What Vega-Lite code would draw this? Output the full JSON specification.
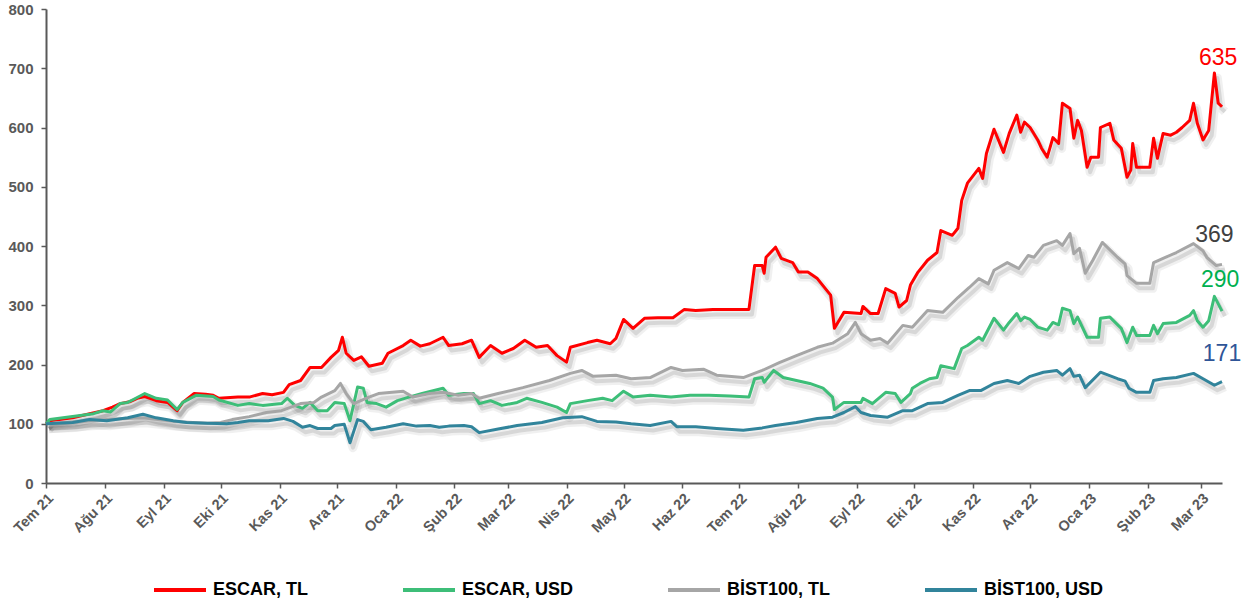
{
  "$schema": "https://vega.github.io/schema/vega-lite/v6.json",
  "width": 1176,
  "height": 474,
  "autosize": {"type": "none"},
  "padding": {"left": 46, "top": 9, "right": 20, "bottom": 121},
  "background": "white",
  "config": {"view": {"stroke": null}, "font": "Liberation Sans"},
  "datasets": {
    "series": [
      {"date":"2021-07-01","series":"ESCAR, TL","value":100},
      {"date":"2021-07-03","series":"ESCAR, TL","value":105},
      {"date":"2021-07-15","series":"ESCAR, TL","value":110},
      {"date":"2021-07-24","series":"ESCAR, TL","value":117},
      {"date":"2021-07-31","series":"ESCAR, TL","value":122},
      {"date":"2021-08-05","series":"ESCAR, TL","value":128},
      {"date":"2021-08-09","series":"ESCAR, TL","value":134},
      {"date":"2021-08-14","series":"ESCAR, TL","value":137},
      {"date":"2021-08-18","series":"ESCAR, TL","value":143},
      {"date":"2021-08-22","series":"ESCAR, TL","value":146},
      {"date":"2021-08-28","series":"ESCAR, TL","value":139},
      {"date":"2021-09-03","series":"ESCAR, TL","value":136},
      {"date":"2021-09-08","series":"ESCAR, TL","value":122},
      {"date":"2021-09-11","series":"ESCAR, TL","value":136},
      {"date":"2021-09-17","series":"ESCAR, TL","value":151},
      {"date":"2021-09-23","series":"ESCAR, TL","value":150},
      {"date":"2021-09-27","series":"ESCAR, TL","value":148},
      {"date":"2021-09-30","series":"ESCAR, TL","value":143},
      {"date":"2021-10-10","series":"ESCAR, TL","value":145},
      {"date":"2021-10-16","series":"ESCAR, TL","value":145},
      {"date":"2021-10-23","series":"ESCAR, TL","value":151},
      {"date":"2021-10-28","series":"ESCAR, TL","value":149},
      {"date":"2021-11-03","series":"ESCAR, TL","value":153},
      {"date":"2021-11-06","series":"ESCAR, TL","value":166},
      {"date":"2021-11-12","series":"ESCAR, TL","value":173},
      {"date":"2021-11-17","series":"ESCAR, TL","value":195},
      {"date":"2021-11-23","series":"ESCAR, TL","value":195},
      {"date":"2021-11-28","series":"ESCAR, TL","value":212},
      {"date":"2021-12-02","series":"ESCAR, TL","value":224},
      {"date":"2021-12-04","series":"ESCAR, TL","value":246},
      {"date":"2021-12-06","series":"ESCAR, TL","value":219},
      {"date":"2021-12-10","series":"ESCAR, TL","value":207},
      {"date":"2021-12-14","series":"ESCAR, TL","value":213},
      {"date":"2021-12-18","series":"ESCAR, TL","value":197},
      {"date":"2021-12-25","series":"ESCAR, TL","value":202},
      {"date":"2021-12-28","series":"ESCAR, TL","value":219},
      {"date":"2022-01-05","series":"ESCAR, TL","value":232},
      {"date":"2022-01-09","series":"ESCAR, TL","value":241},
      {"date":"2022-01-14","series":"ESCAR, TL","value":231},
      {"date":"2022-01-19","series":"ESCAR, TL","value":235},
      {"date":"2022-01-26","series":"ESCAR, TL","value":246},
      {"date":"2022-01-29","series":"ESCAR, TL","value":232},
      {"date":"2022-02-05","series":"ESCAR, TL","value":235},
      {"date":"2022-02-10","series":"ESCAR, TL","value":241},
      {"date":"2022-02-14","series":"ESCAR, TL","value":212},
      {"date":"2022-02-20","series":"ESCAR, TL","value":232},
      {"date":"2022-02-26","series":"ESCAR, TL","value":219},
      {"date":"2022-03-04","series":"ESCAR, TL","value":227},
      {"date":"2022-03-10","series":"ESCAR, TL","value":241},
      {"date":"2022-03-16","series":"ESCAR, TL","value":229},
      {"date":"2022-03-22","series":"ESCAR, TL","value":232},
      {"date":"2022-03-27","series":"ESCAR, TL","value":215},
      {"date":"2022-04-01","series":"ESCAR, TL","value":204},
      {"date":"2022-04-03","series":"ESCAR, TL","value":229},
      {"date":"2022-04-12","series":"ESCAR, TL","value":237},
      {"date":"2022-04-17","series":"ESCAR, TL","value":241},
      {"date":"2022-04-24","series":"ESCAR, TL","value":235},
      {"date":"2022-04-27","series":"ESCAR, TL","value":244},
      {"date":"2022-05-01","series":"ESCAR, TL","value":276},
      {"date":"2022-05-06","series":"ESCAR, TL","value":261},
      {"date":"2022-05-12","series":"ESCAR, TL","value":278},
      {"date":"2022-05-19","series":"ESCAR, TL","value":279},
      {"date":"2022-05-27","series":"ESCAR, TL","value":279},
      {"date":"2022-06-02","series":"ESCAR, TL","value":293},
      {"date":"2022-06-08","series":"ESCAR, TL","value":291},
      {"date":"2022-06-17","series":"ESCAR, TL","value":293},
      {"date":"2022-06-26","series":"ESCAR, TL","value":293},
      {"date":"2022-07-06","series":"ESCAR, TL","value":293},
      {"date":"2022-07-09","series":"ESCAR, TL","value":367},
      {"date":"2022-07-13","series":"ESCAR, TL","value":367},
      {"date":"2022-07-14","series":"ESCAR, TL","value":354},
      {"date":"2022-07-15","series":"ESCAR, TL","value":381},
      {"date":"2022-07-20","series":"ESCAR, TL","value":398},
      {"date":"2022-07-23","series":"ESCAR, TL","value":379},
      {"date":"2022-07-29","series":"ESCAR, TL","value":372},
      {"date":"2022-08-01","series":"ESCAR, TL","value":356},
      {"date":"2022-08-06","series":"ESCAR, TL","value":356},
      {"date":"2022-08-11","series":"ESCAR, TL","value":345},
      {"date":"2022-08-18","series":"ESCAR, TL","value":317},
      {"date":"2022-08-20","series":"ESCAR, TL","value":261},
      {"date":"2022-08-25","series":"ESCAR, TL","value":288},
      {"date":"2022-09-03","series":"ESCAR, TL","value":286},
      {"date":"2022-09-04","series":"ESCAR, TL","value":298},
      {"date":"2022-09-08","series":"ESCAR, TL","value":286},
      {"date":"2022-09-12","series":"ESCAR, TL","value":286},
      {"date":"2022-09-16","series":"ESCAR, TL","value":328},
      {"date":"2022-09-21","series":"ESCAR, TL","value":320},
      {"date":"2022-09-23","series":"ESCAR, TL","value":297},
      {"date":"2022-09-27","series":"ESCAR, TL","value":308},
      {"date":"2022-09-29","series":"ESCAR, TL","value":334},
      {"date":"2022-10-03","series":"ESCAR, TL","value":356},
      {"date":"2022-10-08","series":"ESCAR, TL","value":376},
      {"date":"2022-10-13","series":"ESCAR, TL","value":389},
      {"date":"2022-10-15","series":"ESCAR, TL","value":426},
      {"date":"2022-10-21","series":"ESCAR, TL","value":418},
      {"date":"2022-10-24","series":"ESCAR, TL","value":430},
      {"date":"2022-10-26","series":"ESCAR, TL","value":477},
      {"date":"2022-10-29","series":"ESCAR, TL","value":506},
      {"date":"2022-11-04","series":"ESCAR, TL","value":531},
      {"date":"2022-11-06","series":"ESCAR, TL","value":514},
      {"date":"2022-11-08","series":"ESCAR, TL","value":556},
      {"date":"2022-11-12","series":"ESCAR, TL","value":597},
      {"date":"2022-11-17","series":"ESCAR, TL","value":558},
      {"date":"2022-11-20","series":"ESCAR, TL","value":590},
      {"date":"2022-11-24","series":"ESCAR, TL","value":621},
      {"date":"2022-11-26","series":"ESCAR, TL","value":592},
      {"date":"2022-11-28","series":"ESCAR, TL","value":609},
      {"date":"2022-12-01","series":"ESCAR, TL","value":600},
      {"date":"2022-12-05","series":"ESCAR, TL","value":579},
      {"date":"2022-12-07","series":"ESCAR, TL","value":565},
      {"date":"2022-12-10","series":"ESCAR, TL","value":550},
      {"date":"2022-12-13","series":"ESCAR, TL","value":583},
      {"date":"2022-12-16","series":"ESCAR, TL","value":573},
      {"date":"2022-12-18","series":"ESCAR, TL","value":641},
      {"date":"2022-12-22","series":"ESCAR, TL","value":632},
      {"date":"2022-12-24","series":"ESCAR, TL","value":582},
      {"date":"2022-12-26","series":"ESCAR, TL","value":612},
      {"date":"2022-12-28","series":"ESCAR, TL","value":595},
      {"date":"2022-12-31","series":"ESCAR, TL","value":533},
      {"date":"2023-01-02","series":"ESCAR, TL","value":550},
      {"date":"2023-01-06","series":"ESCAR, TL","value":550},
      {"date":"2023-01-07","series":"ESCAR, TL","value":600},
      {"date":"2023-01-12","series":"ESCAR, TL","value":607},
      {"date":"2023-01-14","series":"ESCAR, TL","value":579},
      {"date":"2023-01-18","series":"ESCAR, TL","value":565},
      {"date":"2023-01-21","series":"ESCAR, TL","value":516},
      {"date":"2023-01-23","series":"ESCAR, TL","value":528},
      {"date":"2023-01-24","series":"ESCAR, TL","value":573},
      {"date":"2023-01-26","series":"ESCAR, TL","value":533},
      {"date":"2023-02-02","series":"ESCAR, TL","value":533},
      {"date":"2023-02-04","series":"ESCAR, TL","value":582},
      {"date":"2023-02-06","series":"ESCAR, TL","value":548},
      {"date":"2023-02-09","series":"ESCAR, TL","value":590},
      {"date":"2023-02-13","series":"ESCAR, TL","value":587},
      {"date":"2023-02-16","series":"ESCAR, TL","value":592},
      {"date":"2023-02-19","series":"ESCAR, TL","value":600},
      {"date":"2023-02-23","series":"ESCAR, TL","value":612},
      {"date":"2023-02-25","series":"ESCAR, TL","value":641},
      {"date":"2023-02-27","series":"ESCAR, TL","value":607},
      {"date":"2023-03-02","series":"ESCAR, TL","value":579},
      {"date":"2023-03-05","series":"ESCAR, TL","value":595},
      {"date":"2023-03-08","series":"ESCAR, TL","value":692},
      {"date":"2023-03-10","series":"ESCAR, TL","value":641},
      {"date":"2023-03-12","series":"ESCAR, TL","value":635},

      {"date":"2021-07-01","series":"ESCAR, USD","value":100},
      {"date":"2021-07-03","series":"ESCAR, USD","value":107},
      {"date":"2021-07-19","series":"ESCAR, USD","value":114},
      {"date":"2021-07-26","series":"ESCAR, USD","value":117},
      {"date":"2021-07-31","series":"ESCAR, USD","value":122},
      {"date":"2021-08-04","series":"ESCAR, USD","value":120},
      {"date":"2021-08-09","series":"ESCAR, USD","value":134},
      {"date":"2021-08-13","series":"ESCAR, USD","value":136},
      {"date":"2021-08-16","series":"ESCAR, USD","value":141},
      {"date":"2021-08-22","series":"ESCAR, USD","value":151},
      {"date":"2021-08-28","series":"ESCAR, USD","value":143},
      {"date":"2021-09-03","series":"ESCAR, USD","value":140},
      {"date":"2021-09-08","series":"ESCAR, USD","value":124},
      {"date":"2021-09-11","series":"ESCAR, USD","value":136},
      {"date":"2021-09-18","series":"ESCAR, USD","value":148},
      {"date":"2021-09-27","series":"ESCAR, USD","value":146},
      {"date":"2021-09-30","series":"ESCAR, USD","value":140},
      {"date":"2021-10-10","series":"ESCAR, USD","value":131},
      {"date":"2021-10-16","series":"ESCAR, USD","value":134},
      {"date":"2021-10-23","series":"ESCAR, USD","value":131},
      {"date":"2021-11-02","series":"ESCAR, USD","value":134},
      {"date":"2021-11-05","series":"ESCAR, USD","value":143},
      {"date":"2021-11-09","series":"ESCAR, USD","value":131},
      {"date":"2021-11-13","series":"ESCAR, USD","value":126},
      {"date":"2021-11-17","series":"ESCAR, USD","value":136},
      {"date":"2021-11-21","series":"ESCAR, USD","value":122},
      {"date":"2021-11-26","series":"ESCAR, USD","value":122},
      {"date":"2021-11-30","series":"ESCAR, USD","value":136},
      {"date":"2021-12-05","series":"ESCAR, USD","value":134},
      {"date":"2021-12-08","series":"ESCAR, USD","value":105},
      {"date":"2021-12-12","series":"ESCAR, USD","value":162},
      {"date":"2021-12-15","series":"ESCAR, USD","value":160},
      {"date":"2021-12-17","series":"ESCAR, USD","value":136},
      {"date":"2021-12-22","series":"ESCAR, USD","value":134},
      {"date":"2021-12-27","series":"ESCAR, USD","value":128},
      {"date":"2022-01-02","series":"ESCAR, USD","value":139},
      {"date":"2022-01-08","series":"ESCAR, USD","value":145},
      {"date":"2022-01-15","series":"ESCAR, USD","value":151},
      {"date":"2022-01-26","series":"ESCAR, USD","value":160},
      {"date":"2022-01-29","series":"ESCAR, USD","value":148},
      {"date":"2022-02-06","series":"ESCAR, USD","value":151},
      {"date":"2022-02-11","series":"ESCAR, USD","value":151},
      {"date":"2022-02-14","series":"ESCAR, USD","value":134},
      {"date":"2022-02-20","series":"ESCAR, USD","value":139},
      {"date":"2022-02-26","series":"ESCAR, USD","value":131},
      {"date":"2022-03-06","series":"ESCAR, USD","value":136},
      {"date":"2022-03-11","series":"ESCAR, USD","value":143},
      {"date":"2022-03-19","series":"ESCAR, USD","value":136},
      {"date":"2022-03-27","series":"ESCAR, USD","value":128},
      {"date":"2022-04-01","series":"ESCAR, USD","value":119},
      {"date":"2022-04-03","series":"ESCAR, USD","value":134},
      {"date":"2022-04-12","series":"ESCAR, USD","value":139},
      {"date":"2022-04-20","series":"ESCAR, USD","value":143},
      {"date":"2022-04-25","series":"ESCAR, USD","value":139},
      {"date":"2022-05-01","series":"ESCAR, USD","value":155},
      {"date":"2022-05-06","series":"ESCAR, USD","value":145},
      {"date":"2022-05-15","series":"ESCAR, USD","value":148},
      {"date":"2022-05-26","series":"ESCAR, USD","value":145},
      {"date":"2022-06-05","series":"ESCAR, USD","value":148},
      {"date":"2022-06-15","series":"ESCAR, USD","value":148},
      {"date":"2022-06-26","series":"ESCAR, USD","value":147},
      {"date":"2022-07-06","series":"ESCAR, USD","value":145},
      {"date":"2022-07-09","series":"ESCAR, USD","value":176},
      {"date":"2022-07-13","series":"ESCAR, USD","value":178},
      {"date":"2022-07-14","series":"ESCAR, USD","value":170},
      {"date":"2022-07-19","series":"ESCAR, USD","value":190},
      {"date":"2022-07-24","series":"ESCAR, USD","value":178},
      {"date":"2022-07-31","series":"ESCAR, USD","value":173},
      {"date":"2022-08-07","series":"ESCAR, USD","value":168},
      {"date":"2022-08-14","series":"ESCAR, USD","value":160},
      {"date":"2022-08-19","series":"ESCAR, USD","value":145},
      {"date":"2022-08-20","series":"ESCAR, USD","value":124},
      {"date":"2022-08-25","series":"ESCAR, USD","value":136},
      {"date":"2022-09-03","series":"ESCAR, USD","value":136},
      {"date":"2022-09-04","series":"ESCAR, USD","value":143},
      {"date":"2022-09-09","series":"ESCAR, USD","value":134},
      {"date":"2022-09-16","series":"ESCAR, USD","value":153},
      {"date":"2022-09-21","series":"ESCAR, USD","value":151},
      {"date":"2022-09-24","series":"ESCAR, USD","value":136},
      {"date":"2022-09-29","series":"ESCAR, USD","value":151},
      {"date":"2022-09-30","series":"ESCAR, USD","value":160},
      {"date":"2022-10-04","series":"ESCAR, USD","value":168},
      {"date":"2022-10-09","series":"ESCAR, USD","value":176},
      {"date":"2022-10-13","series":"ESCAR, USD","value":178},
      {"date":"2022-10-15","series":"ESCAR, USD","value":198},
      {"date":"2022-10-22","series":"ESCAR, USD","value":193},
      {"date":"2022-10-26","series":"ESCAR, USD","value":227},
      {"date":"2022-10-29","series":"ESCAR, USD","value":232},
      {"date":"2022-11-04","series":"ESCAR, USD","value":246},
      {"date":"2022-11-06","series":"ESCAR, USD","value":241},
      {"date":"2022-11-12","series":"ESCAR, USD","value":278},
      {"date":"2022-11-17","series":"ESCAR, USD","value":258},
      {"date":"2022-11-20","series":"ESCAR, USD","value":271},
      {"date":"2022-11-24","series":"ESCAR, USD","value":286},
      {"date":"2022-11-26","series":"ESCAR, USD","value":274},
      {"date":"2022-11-28","series":"ESCAR, USD","value":280},
      {"date":"2022-12-01","series":"ESCAR, USD","value":276},
      {"date":"2022-12-05","series":"ESCAR, USD","value":263},
      {"date":"2022-12-10","series":"ESCAR, USD","value":258},
      {"date":"2022-12-13","series":"ESCAR, USD","value":271},
      {"date":"2022-12-16","series":"ESCAR, USD","value":267},
      {"date":"2022-12-18","series":"ESCAR, USD","value":295},
      {"date":"2022-12-22","series":"ESCAR, USD","value":291},
      {"date":"2022-12-24","series":"ESCAR, USD","value":269},
      {"date":"2022-12-26","series":"ESCAR, USD","value":280},
      {"date":"2022-12-31","series":"ESCAR, USD","value":246},
      {"date":"2023-01-06","series":"ESCAR, USD","value":246},
      {"date":"2023-01-07","series":"ESCAR, USD","value":278},
      {"date":"2023-01-12","series":"ESCAR, USD","value":280},
      {"date":"2023-01-18","series":"ESCAR, USD","value":261},
      {"date":"2023-01-21","series":"ESCAR, USD","value":237},
      {"date":"2023-01-24","series":"ESCAR, USD","value":263},
      {"date":"2023-01-26","series":"ESCAR, USD","value":249},
      {"date":"2023-02-02","series":"ESCAR, USD","value":249},
      {"date":"2023-02-04","series":"ESCAR, USD","value":266},
      {"date":"2023-02-06","series":"ESCAR, USD","value":252},
      {"date":"2023-02-09","series":"ESCAR, USD","value":269},
      {"date":"2023-02-16","series":"ESCAR, USD","value":271},
      {"date":"2023-02-23","series":"ESCAR, USD","value":283},
      {"date":"2023-02-25","series":"ESCAR, USD","value":291},
      {"date":"2023-02-27","series":"ESCAR, USD","value":274},
      {"date":"2023-03-02","series":"ESCAR, USD","value":263},
      {"date":"2023-03-05","series":"ESCAR, USD","value":274},
      {"date":"2023-03-08","series":"ESCAR, USD","value":315},
      {"date":"2023-03-12","series":"ESCAR, USD","value":290},

      {"date":"2021-07-01","series":"BİST100, TL","value":100},
      {"date":"2021-07-15","series":"BİST100, TL","value":103},
      {"date":"2021-08-02","series":"BİST100, TL","value":107},
      {"date":"2021-08-21","series":"BİST100, TL","value":110},
      {"date":"2021-09-06","series":"BİST100, TL","value":104},
      {"date":"2021-09-24","series":"BİST100, TL","value":101},
      {"date":"2021-10-01","series":"BİST100, TL","value":102},
      {"date":"2021-10-07","series":"BİST100, TL","value":107},
      {"date":"2021-10-16","series":"BİST100, TL","value":112},
      {"date":"2021-10-25","series":"BİST100, TL","value":119},
      {"date":"2021-11-02","series":"BİST100, TL","value":122},
      {"date":"2021-11-12","series":"BİST100, TL","value":134},
      {"date":"2021-11-19","series":"BİST100, TL","value":136},
      {"date":"2021-11-23","series":"BİST100, TL","value":145},
      {"date":"2021-11-30","series":"BİST100, TL","value":156},
      {"date":"2021-12-03","series":"BİST100, TL","value":168},
      {"date":"2021-12-06","series":"BİST100, TL","value":151},
      {"date":"2021-12-10","series":"BİST100, TL","value":134},
      {"date":"2021-12-18","series":"BİST100, TL","value":145},
      {"date":"2021-12-23","series":"BİST100, TL","value":151},
      {"date":"2022-01-05","series":"BİST100, TL","value":155},
      {"date":"2022-01-10","series":"BİST100, TL","value":145},
      {"date":"2022-01-19","series":"BİST100, TL","value":151},
      {"date":"2022-01-26","series":"BİST100, TL","value":153},
      {"date":"2022-02-03","series":"BİST100, TL","value":148},
      {"date":"2022-02-10","series":"BİST100, TL","value":151},
      {"date":"2022-02-14","series":"BİST100, TL","value":143},
      {"date":"2022-02-24","series":"BİST100, TL","value":151},
      {"date":"2022-03-09","series":"BİST100, TL","value":161},
      {"date":"2022-03-23","series":"BİST100, TL","value":173},
      {"date":"2022-04-03","series":"BİST100, TL","value":185},
      {"date":"2022-04-09","series":"BİST100, TL","value":190},
      {"date":"2022-04-15","series":"BİST100, TL","value":180},
      {"date":"2022-04-27","series":"BİST100, TL","value":182},
      {"date":"2022-05-05","series":"BİST100, TL","value":176},
      {"date":"2022-05-15","series":"BİST100, TL","value":178},
      {"date":"2022-05-26","series":"BİST100, TL","value":195},
      {"date":"2022-06-01","series":"BİST100, TL","value":190},
      {"date":"2022-06-12","series":"BİST100, TL","value":192},
      {"date":"2022-06-19","series":"BİST100, TL","value":182},
      {"date":"2022-07-03","series":"BİST100, TL","value":178},
      {"date":"2022-07-13","series":"BİST100, TL","value":190},
      {"date":"2022-07-22","series":"BİST100, TL","value":203},
      {"date":"2022-07-31","series":"BİST100, TL","value":215},
      {"date":"2022-08-11","series":"BİST100, TL","value":229},
      {"date":"2022-08-19","series":"BİST100, TL","value":236},
      {"date":"2022-08-27","series":"BİST100, TL","value":252},
      {"date":"2022-08-31","series":"BİST100, TL","value":271},
      {"date":"2022-09-03","series":"BİST100, TL","value":252},
      {"date":"2022-09-08","series":"BİST100, TL","value":241},
      {"date":"2022-09-13","series":"BİST100, TL","value":244},
      {"date":"2022-09-17","series":"BİST100, TL","value":236},
      {"date":"2022-09-25","series":"BİST100, TL","value":266},
      {"date":"2022-09-30","series":"BİST100, TL","value":263},
      {"date":"2022-10-08","series":"BİST100, TL","value":291},
      {"date":"2022-10-16","series":"BİST100, TL","value":288},
      {"date":"2022-10-24","series":"BİST100, TL","value":313},
      {"date":"2022-10-30","series":"BİST100, TL","value":330},
      {"date":"2022-11-04","series":"BİST100, TL","value":345},
      {"date":"2022-11-09","series":"BİST100, TL","value":336},
      {"date":"2022-11-12","series":"BİST100, TL","value":359},
      {"date":"2022-11-19","series":"BİST100, TL","value":372},
      {"date":"2022-11-25","series":"BİST100, TL","value":362},
      {"date":"2022-11-30","series":"BİST100, TL","value":384},
      {"date":"2022-12-03","series":"BİST100, TL","value":381},
      {"date":"2022-12-08","series":"BİST100, TL","value":401},
      {"date":"2022-12-15","series":"BİST100, TL","value":409},
      {"date":"2022-12-18","series":"BİST100, TL","value":401},
      {"date":"2022-12-22","series":"BİST100, TL","value":421},
      {"date":"2022-12-24","series":"BİST100, TL","value":387},
      {"date":"2022-12-27","series":"BİST100, TL","value":396},
      {"date":"2022-12-30","series":"BİST100, TL","value":354},
      {"date":"2023-01-03","series":"BİST100, TL","value":376},
      {"date":"2023-01-08","series":"BİST100, TL","value":406},
      {"date":"2023-01-16","series":"BİST100, TL","value":381},
      {"date":"2023-01-20","series":"BİST100, TL","value":370},
      {"date":"2023-01-21","series":"BİST100, TL","value":350},
      {"date":"2023-01-26","series":"BİST100, TL","value":337},
      {"date":"2023-02-02","series":"BİST100, TL","value":337},
      {"date":"2023-02-04","series":"BİST100, TL","value":372},
      {"date":"2023-02-09","series":"BİST100, TL","value":379},
      {"date":"2023-02-16","series":"BİST100, TL","value":389},
      {"date":"2023-02-25","series":"BİST100, TL","value":404},
      {"date":"2023-03-02","series":"BİST100, TL","value":392},
      {"date":"2023-03-04","series":"BİST100, TL","value":381},
      {"date":"2023-03-09","series":"BİST100, TL","value":367},
      {"date":"2023-03-12","series":"BİST100, TL","value":369},

      {"date":"2021-07-01","series":"BİST100, USD","value":100},
      {"date":"2021-07-15","series":"BİST100, USD","value":102},
      {"date":"2021-07-24","series":"BİST100, USD","value":107},
      {"date":"2021-08-02","series":"BİST100, USD","value":105},
      {"date":"2021-08-13","series":"BİST100, USD","value":110},
      {"date":"2021-08-21","series":"BİST100, USD","value":116},
      {"date":"2021-08-28","series":"BİST100, USD","value":110},
      {"date":"2021-09-06","series":"BİST100, USD","value":105},
      {"date":"2021-09-13","series":"BİST100, USD","value":102},
      {"date":"2021-09-24","series":"BİST100, USD","value":101},
      {"date":"2021-10-04","series":"BİST100, USD","value":100},
      {"date":"2021-10-10","series":"BİST100, USD","value":102},
      {"date":"2021-10-16","series":"BİST100, USD","value":105},
      {"date":"2021-10-26","series":"BİST100, USD","value":105},
      {"date":"2021-11-03","series":"BİST100, USD","value":109},
      {"date":"2021-11-08","series":"BİST100, USD","value":104},
      {"date":"2021-11-13","series":"BİST100, USD","value":94},
      {"date":"2021-11-17","series":"BİST100, USD","value":97},
      {"date":"2021-11-21","series":"BİST100, USD","value":92},
      {"date":"2021-11-28","series":"BİST100, USD","value":92},
      {"date":"2021-11-30","series":"BİST100, USD","value":97},
      {"date":"2021-12-05","series":"BİST100, USD","value":99},
      {"date":"2021-12-08","series":"BİST100, USD","value":68},
      {"date":"2021-12-12","series":"BİST100, USD","value":107},
      {"date":"2021-12-15","series":"BİST100, USD","value":104},
      {"date":"2021-12-19","series":"BİST100, USD","value":90},
      {"date":"2021-12-27","series":"BİST100, USD","value":94},
      {"date":"2022-01-05","series":"BİST100, USD","value":100},
      {"date":"2022-01-12","series":"BİST100, USD","value":96},
      {"date":"2022-01-19","series":"BİST100, USD","value":97},
      {"date":"2022-01-24","series":"BİST100, USD","value":94},
      {"date":"2022-01-29","series":"BİST100, USD","value":96},
      {"date":"2022-02-06","series":"BİST100, USD","value":97},
      {"date":"2022-02-10","series":"BİST100, USD","value":95},
      {"date":"2022-02-14","series":"BİST100, USD","value":85},
      {"date":"2022-02-24","series":"BİST100, USD","value":91},
      {"date":"2022-03-06","series":"BİST100, USD","value":97},
      {"date":"2022-03-19","series":"BİST100, USD","value":102},
      {"date":"2022-03-30","series":"BİST100, USD","value":110},
      {"date":"2022-04-09","series":"BİST100, USD","value":112},
      {"date":"2022-04-17","series":"BİST100, USD","value":104},
      {"date":"2022-04-27","series":"BİST100, USD","value":103},
      {"date":"2022-05-05","series":"BİST100, USD","value":100},
      {"date":"2022-05-15","series":"BİST100, USD","value":97},
      {"date":"2022-05-26","series":"BİST100, USD","value":104},
      {"date":"2022-05-29","series":"BİST100, USD","value":95},
      {"date":"2022-06-08","series":"BİST100, USD","value":95},
      {"date":"2022-06-19","series":"BİST100, USD","value":92},
      {"date":"2022-07-03","series":"BİST100, USD","value":89},
      {"date":"2022-07-13","series":"BİST100, USD","value":93},
      {"date":"2022-07-20","series":"BİST100, USD","value":97},
      {"date":"2022-07-31","series":"BİST100, USD","value":102},
      {"date":"2022-08-11","series":"BİST100, USD","value":109},
      {"date":"2022-08-19","series":"BİST100, USD","value":111},
      {"date":"2022-08-25","series":"BİST100, USD","value":119},
      {"date":"2022-08-31","series":"BİST100, USD","value":129},
      {"date":"2022-09-03","series":"BİST100, USD","value":119},
      {"date":"2022-09-08","series":"BİST100, USD","value":114},
      {"date":"2022-09-17","series":"BİST100, USD","value":111},
      {"date":"2022-09-25","series":"BİST100, USD","value":122},
      {"date":"2022-09-30","series":"BİST100, USD","value":122},
      {"date":"2022-10-08","series":"BİST100, USD","value":134},
      {"date":"2022-10-16","series":"BİST100, USD","value":136},
      {"date":"2022-10-24","series":"BİST100, USD","value":148},
      {"date":"2022-10-30","series":"BİST100, USD","value":156},
      {"date":"2022-11-05","series":"BİST100, USD","value":156},
      {"date":"2022-11-12","series":"BİST100, USD","value":168},
      {"date":"2022-11-19","series":"BİST100, USD","value":173},
      {"date":"2022-11-25","series":"BİST100, USD","value":168},
      {"date":"2022-12-01","series":"BİST100, USD","value":180},
      {"date":"2022-12-08","series":"BİST100, USD","value":187},
      {"date":"2022-12-15","series":"BİST100, USD","value":190},
      {"date":"2022-12-18","series":"BİST100, USD","value":182},
      {"date":"2022-12-22","series":"BİST100, USD","value":193},
      {"date":"2022-12-24","series":"BİST100, USD","value":180},
      {"date":"2022-12-27","series":"BİST100, USD","value":182},
      {"date":"2022-12-30","series":"BİST100, USD","value":161},
      {"date":"2023-01-07","series":"BİST100, USD","value":187},
      {"date":"2023-01-16","series":"BİST100, USD","value":176},
      {"date":"2023-01-20","series":"BİST100, USD","value":172},
      {"date":"2023-01-22","series":"BİST100, USD","value":160},
      {"date":"2023-01-26","series":"BİST100, USD","value":153},
      {"date":"2023-02-02","series":"BİST100, USD","value":153},
      {"date":"2023-02-04","series":"BİST100, USD","value":173},
      {"date":"2023-02-09","series":"BİST100, USD","value":176},
      {"date":"2023-02-16","series":"BİST100, USD","value":178},
      {"date":"2023-02-25","series":"BİST100, USD","value":185},
      {"date":"2023-03-02","series":"BİST100, USD","value":176},
      {"date":"2023-03-08","series":"BİST100, USD","value":165},
      {"date":"2023-03-12","series":"BİST100, USD","value":171}
    ],
    "labels": [
      {"date":"2023-03-10","series":"ESCAR, TL","value":718,"label":"635"},
      {"date":"2023-03-08","series":"BİST100, TL","value":419,"label":"369"},
      {"date":"2023-03-11","series":"ESCAR, USD","value":343,"label":"290"},
      {"date":"2023-03-12","series":"BİST100, USD","value":218,"label":"171"}
    ]
  },
  "encoding": {
    "x": {
      "field": "date",
      "type": "temporal",
      "scale": {"type": "utc", "domain": [{"year": 2021, "month": 7, "date": 1, "utc": true}, {"year": 2023, "month": 3, "date": 12, "utc": true}]},
      "axis": {
        "title": null,
        "grid": false,
        "tickCount": {"interval": "month", "step": 1},
        "labelExpr": "['Oca','Şub','Mar','Nis','May','Haz','Tem','Ağu','Eyl','Eki','Kas','Ara'][utcmonth(datum.value)] + ' ' + utcFormat(datum.value, '%y')",
        "labelAngle": -45,
        "labelFont": "Liberation Sans Narrow, Arial Narrow, Liberation Sans, sans-serif",
        "labelFontSize": 14.5,
        "labelFontWeight": "bold",
        "labelColor": "#595959",
        "labelOverlap": false,
        "domainColor": "#595959",
        "domainWidth": 2,
        "tickColor": "#595959",
        "tickWidth": 1.5,
        "tickSize": 5,
        "labelPadding": 3
      }
    },
    "y": {
      "field": "value",
      "type": "quantitative",
      "scale": {"domain": [0, 800]},
      "axis": {
        "title": null,
        "grid": false,
        "values": [0, 100, 200, 300, 400, 500, 600, 700, 800],
        "labelFont": "Liberation Sans Narrow, Arial Narrow, Liberation Sans, sans-serif",
        "labelFontSize": 15,
        "labelFontWeight": "bold",
        "labelColor": "#595959",
        "domainColor": "#595959",
        "domainWidth": 2,
        "tickColor": "#595959",
        "tickWidth": 1.5,
        "tickSize": 5,
        "labelPadding": 8
      }
    }
  },
  "layer": [
    {
      "data": {"name": "series"},
      "mark": {"type": "line", "color": "#000000", "opacity": 0.06, "strokeWidth": 9, "xOffset": 3, "yOffset": 5, "strokeJoin": "round"},
      "encoding": {"detail": {"field": "series", "type": "nominal"}}
    },
    {
      "data": {"name": "series"},
      "mark": {"type": "line", "color": "#000000", "opacity": 0.1, "strokeWidth": 4, "xOffset": 3, "yOffset": 5, "strokeJoin": "round"},
      "encoding": {"detail": {"field": "series", "type": "nominal"}}
    },
    {
      "data": {"name": "series"},
      "mark": {"type": "line", "strokeWidth": 3, "strokeJoin": "round"},
      "encoding": {
        "color": {
          "field": "series",
          "type": "nominal",
          "sort": null,
          "scale": {
            "domain": ["ESCAR, TL", "ESCAR, USD", "BİST100, TL", "BİST100, USD"],
            "range": ["#FF0000", "#3DBE78", "#A6A6A6", "#31849B"]
          },
          "legend": {
            "orient": "none",
            "legendX": 106,
            "legendY": 553,
            "direction": "horizontal",
            "columns": 4,
            "title": null,
            "symbolType": "stroke",
            "symbolSize": 2704,
            "symbolStrokeWidth": 4,
            "labelFont": "Liberation Sans",
            "labelFontSize": 18,
            "labelFontWeight": "bold",
            "labelColor": "#000000",
            "labelOffset": 5,
            "columnPadding": 86,
            "labelLimit": 300
          }
        }
      }
    },
    {
      "data": {"name": "labels"},
      "mark": {"type": "text", "font": "Liberation Sans", "fontSize": 23, "align": "center", "baseline": "middle"},
      "encoding": {
        "text": {"field": "label", "type": "nominal"},
        "color": {
          "field": "series",
          "type": "nominal",
          "scale": {
            "domain": ["ESCAR, TL", "ESCAR, USD", "BİST100, TL", "BİST100, USD"],
            "range": ["#FF0000", "#00B050", "#404040", "#2F5597"]
          },
          "legend": null
        }
      }
    }
  ],
  "resolve": {"scale": {"color": "independent"}}
}
